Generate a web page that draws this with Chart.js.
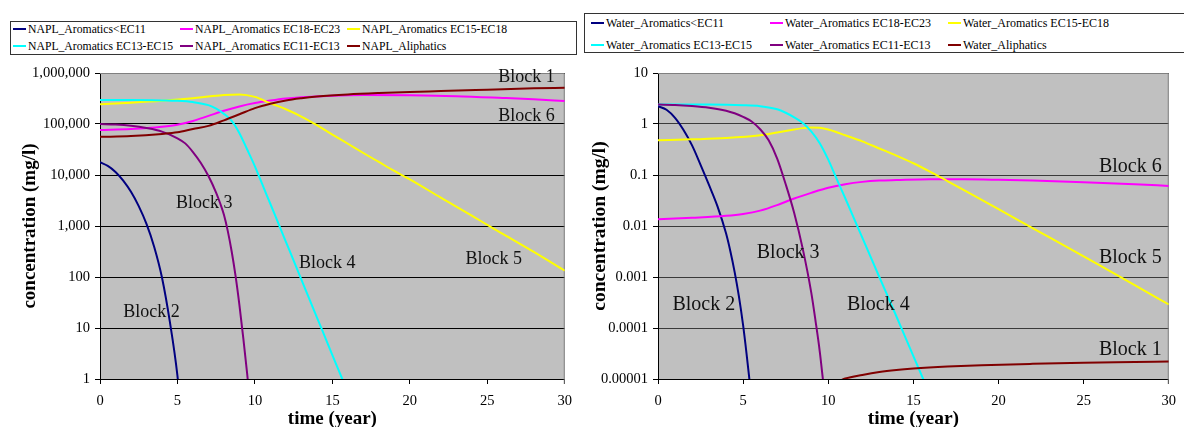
<!DOCTYPE html>
<html lang="en">
<head>
<meta charset="UTF-8">
<title>NAPL and water concentrations</title>
<script src="https://cdn.jsdelivr.net/npm/chart.js"></script>
<style>
  body { margin: 0; background: #fff; }
  #wrap { position: relative; width: 1184px; height: 427px; overflow: hidden; }
  canvas { position: absolute; top: 0; }
  .legend { position: absolute; border: 1px solid #333; background: #fff; box-sizing: border-box;
            font-family: "Liberation Serif", serif; font-size: 12px; color: #000; }
  .legend .item { position: absolute; white-space: nowrap; line-height: 14px; }
  .legend .sw { display: inline-block; width: 13px; height: 2px; vertical-align: middle; margin-right: 2px; position: relative; top: -1px; }
</style>
</head>
<body>
<div id="wrap">
  <canvas id="napl" width="580" height="427" style="left:0"></canvas>
  <canvas id="water" width="604" height="427" style="left:580px"></canvas>
  <div id="legNapl" class="legend" style="left:10px; top:21px; width:567px; height:34px; font-size:11.7px"></div>
  <div id="legWater" class="legend" style="left:584px; top:13px; width:700px; height:40px"></div>
</div>
<script>
// series order is the same in both charts
const colors = ['#000080', '#ff00ff', '#ffff00', '#00ffff', '#800080', '#800000'];

const naplNames = ['NAPL_Aromatics<EC11', 'NAPL_Aromatics EC18-EC23', 'NAPL_Aromatics EC15-EC18',
                   'NAPL_Aromatics EC13-EC15', 'NAPL_Aromatics EC11-EC13', 'NAPL_Aliphatics'];
const waterNames = ['Water_Aromatics<EC11', 'Water_Aromatics EC18-EC23', 'Water_Aromatics EC15-EC18',
                    'Water_Aromatics EC13-EC15', 'Water_Aromatics EC11-EC13', 'Water_Aliphatics'];

// [time (year), concentration (mg/l)]
const naplLt11 = [[0,17800],[0.5,15100],[1,11500],[1.5,7760],[2,4680],[2.5,2450],[3,1100],[3.5,389],[4,98],[4.5,13.8],[5,1.15],[5.2,0.25]];
const naplEC1823 = [[0,75900],[2,79400],[4,88100],[5,96600],[6,114800],[7,144500],[8,182000],[9,221000],[10,257000],[11,288000],[12,316000],[13,335000],[15,359000],[17,369000],[20,365000],[23,351000],[26,324000],[28,305000],[30,282000]];
const naplEC1518 = [[0,245000],[2,262000],[4,285000],[6,320000],[7,345000],[8,370000],[9,380000],[10,340000],[11,255000],[12,195000],[13,140000],[14,95000],[15,62000],[16,41000],[17,27000],[18,18000],[19,12000],[20,8200],[22,3600],[24,1600],[25,1050],[26,700],[28,310],[30,133]];
const naplEC1315 = [[0,295000],[2,295000],[4,290000],[5,285000],[6,269000],[7,234000],[7.5,200000],[8,158000],[8.5,115000],[9,66000],[9.5,31600],[10,14800],[10.5,6300],[11,2700],[11.5,1150],[12,490],[13,89],[14,16.2],[15,2.95],[15.6,1.07],[16,0.54]];
const naplEC1113 = [[0,100000],[1,97700],[2,92300],[3,83200],[4,70800],[5,52500],[5.5,41700],[6,28200],[6.5,17400],[7,9550],[7.5,4470],[7.75,2820],[8,1660],[8.25,794],[8.5,316],[8.75,105],[9,28.2],[9.25,6.3],[9.5,1.26],[9.6,0.63]];
const naplAliph = [[0,56000],[2,58000],[4,64000],[5,69000],[6,80000],[7,92000],[8,118000],[9,155000],[10,205000],[11,250000],[12,290000],[13,320000],[14,345000],[16,380000],[18,405000],[20,425000],[22,442000],[25,470000],[28,500000],[30,515000]];

const waterLt11 = [[0,2.24],[0.5,1.9],[1,1.32],[1.5,0.76],[2,0.38],[2.5,0.158],[3,0.063],[3.5,0.024],[4,0.0071],[4.25,0.0032],[4.5,0.00126],[4.75,0.00042],[5,0.000112],[5.2,0.0000316],[5.4,0.0000079]];
const waterEC1823 = [[0,0.0135],[2,0.01445],[4,0.0158],[5,0.0172],[6,0.02],[7,0.0257],[8,0.0347],[9,0.0447],[10,0.0562],[11,0.066],[12,0.0733],[13,0.0776],[14,0.0794],[16,0.0822],[18,0.0822],[20,0.0804],[22,0.0776],[25,0.0724],[28,0.066],[30,0.061]];
const waterEC1518 = [[0,0.48],[2,0.5],[4,0.53],[6,0.6],[7,0.68],[8,0.78],[8.5,0.83],[9,0.855],[9.5,0.84],[10,0.78],[10.5,0.69],[11,0.6],[12,0.457],[13,0.331],[14,0.24],[15,0.17],[16,0.115],[17,0.076],[18,0.05],[20,0.0214],[22,0.0091],[24,0.0039],[26,0.00166],[28,0.00069],[30,0.00029]];
const waterEC1315 = [[0,2.4],[3,2.4],[5,2.34],[6,2.24],[7,1.95],[7.5,1.66],[8,1.35],[8.5,1.05],[9,0.72],[9.5,0.42],[10,0.2],[10.5,0.083],[11,0.035],[12,0.0059],[13,0.001],[14,0.00017],[15,0.000028],[16,0.0000047]];
const waterEC1113 = [[0,2.4],[1,2.37],[2,2.26],[3,2.09],[4,1.82],[4.5,1.62],[5,1.38],[5.5,1.12],[6,0.79],[6.5,0.48],[7,0.21],[7.5,0.066],[8,0.018],[8.5,0.0036],[9,0.0005],[9.25,0.00014],[9.5,0.000035],[9.75,0.0000063]];
const waterAliph = [[10.6,0.000009],[11,0.0000102],[12,0.000012],[13,0.0000137],[14,0.000015],[15,0.000016],[17,0.0000175],[19,0.0000186],[22,0.0000198],[25,0.0000208],[28,0.0000215],[30,0.000022]];

// y ticks (ascending) and their labels
const naplTicks = [1, 10, 100, 1000, 10000, 100000, 1000000];
const naplTickLabels = ['1', '10', '100', '1,000', '10,000', '100,000', '1,000,000'];
const waterTicks = [0.00001, 0.0001, 0.001, 0.01, 0.1, 1, 10];
const waterTickLabels = ['0.00001', '0.0001', '0.001', '0.01', '0.1', '1', '10'];

// block annotations, anchored at [time, concentration]
const naplBlocks = [['Block 1', 25.7, 832000], ['Block 6', 25.7, 143500], ['Block 3', 4.9, 2830],
                    ['Block 2', 1.5, 20.5], ['Block 4', 12.85, 188], ['Block 5', 23.6, 225]];
const waterBlocks = [['Block 3', 5.8, 0.00295], ['Block 2', 0.85, 0.000282], ['Block 4', 11.1, 0.000282],
                     ['Block 6', 25.9, 0.1436], ['Block 5', 25.9, 0.00234], ['Block 1', 25.9, 0.000037]];

const serif = '"Liberation Serif", "Times New Roman", serif';

// grey plot area with a thin grey frame on top and right
const plotFrame = {
  id: 'plotFrame',
  beforeDraw(chart) {
    const { ctx, chartArea: a } = chart;
    ctx.save();
    ctx.fillStyle = '#c0c0c0';
    ctx.fillRect(a.left, a.top, a.right - a.left, a.bottom - a.top);
    ctx.restore();
  },
  beforeDatasetsDraw(chart) {
    const { ctx, chartArea: a } = chart;
    ctx.save();
    ctx.strokeStyle = '#808080';
    ctx.lineWidth = 1;
    ctx.beginPath();
    ctx.moveTo(a.left, a.top + 0.5);
    ctx.lineTo(a.right - 0.5, a.top + 0.5);
    ctx.lineTo(a.right - 0.5, a.bottom + 5);
    ctx.stroke();
    ctx.restore();
  }
};

const blockLabels = {
  id: 'blockLabels',
  afterDatasetsDraw(chart, args, opts) {
    const { ctx, scales: { x, y } } = chart;
    ctx.save();
    ctx.font = opts.size + 'px ' + serif;
    ctx.fillStyle = '#111';
    ctx.textBaseline = 'middle';
    opts.items.forEach(b => ctx.fillText(b[0], x.getPixelForValue(b[1]), y.getPixelForValue(b[2])));
    ctx.restore();
  }
};

function makeChart(id, series, names, ticks, tickLabels, blocks, cfg) {
  return new Chart(document.getElementById(id), {
    type: 'line',
    data: {
      datasets: series.map((s, i) => ({
        label: names[i],
        data: s.map(p => ({ x: p[0], y: p[1] })),
        borderColor: colors[i],
        borderWidth: 2,
        pointRadius: 0,
        cubicInterpolationMode: 'monotone',
        fill: false,
        order: series.length - i
      }))
    },
    options: {
      responsive: false,
      animation: false,
      events: [],
      layout: { padding: { top: 73, right: cfg.padRight, bottom: 0, left: 0 } },
      plugins: {
        legend: { display: false },
        tooltip: { enabled: false },
        blockLabels: { items: blocks, size: cfg.blockSize }
      },
      scales: {
        x: {
          type: 'linear', min: 0, max: 30,
          afterFit: s => { s.height = 48; },
          ticks: { stepSize: 5, color: '#000', padding: 8, font: { family: serif, size: 14.5 } },
          grid: { drawOnChartArea: false, drawTicks: true, tickLength: 5, color: '#000' },
          border: { color: '#000', width: 1 },
          title: { display: true, text: 'time (year)', color: '#000', padding: 0,
                   font: { family: serif, size: cfg.titleSize, weight: 'bold', lineHeight: 0.85 } }
        },
        y: {
          type: 'logarithmic', min: ticks[0], max: ticks[ticks.length - 1],
          afterFit: s => { s.width = cfg.yWidth; },
          afterBuildTicks: s => { s.ticks = ticks.map(v => ({ value: v })); },
          ticks: { color: '#000', padding: 5, font: { family: serif, size: 14.5 },
                   callback: (v, i) => tickLabels[i] },
          grid: { color: cfg.gridColor, tickColor: '#000', tickLength: 5, lineWidth: 1 },
          border: { color: '#000', width: 1 },
          title: { display: true, text: 'concentration (mg/l)', color: '#000',
                   padding: { top: cfg.yTitlePad, bottom: 0 },
                   font: { family: serif, size: cfg.titleSize, weight: 'bold', lineHeight: 1.2 } }
        }
      }
    },
    plugins: [plotFrame, blockLabels]
  });
}

function buildLegend(id, names, colX, rowY) {
  const box = document.getElementById(id);
  names.forEach((n, i) => {
    const item = document.createElement('div');
    item.className = 'item';
    item.style.left = colX[i % 3] + 'px';
    item.style.top = rowY[Math.floor(i / 3)] + 'px';
    const sw = document.createElement('span');
    sw.className = 'sw';
    sw.style.background = colors[i];
    item.appendChild(sw);
    item.appendChild(document.createTextNode(n));
    box.appendChild(item);
  });
}

buildLegend('legNapl', naplNames, [2, 169, 336], [1, 18]);
buildLegend('legWater', waterNames, [6, 185, 363], [2, 24]);

makeChart('napl', [naplLt11, naplEC1823, naplEC1518, naplEC1315, naplEC1113, naplAliph],
  naplNames, naplTicks, naplTickLabels, naplBlocks,
  { padRight: 13, yWidth: 100, yTitlePad: 18.6, titleSize: 19, blockSize: 18, gridColor: '#000' });

makeChart('water', [waterLt11, waterEC1823, waterEC1518, waterEC1315, waterEC1113, waterAliph],
  waterNames, waterTicks, waterTickLabels, waterBlocks,
  { padRight: 6, yWidth: 78, yTitlePad: 8, titleSize: 19.5, blockSize: 20, gridColor: '#3a3a3a' });
</script>
</body>
</html>
